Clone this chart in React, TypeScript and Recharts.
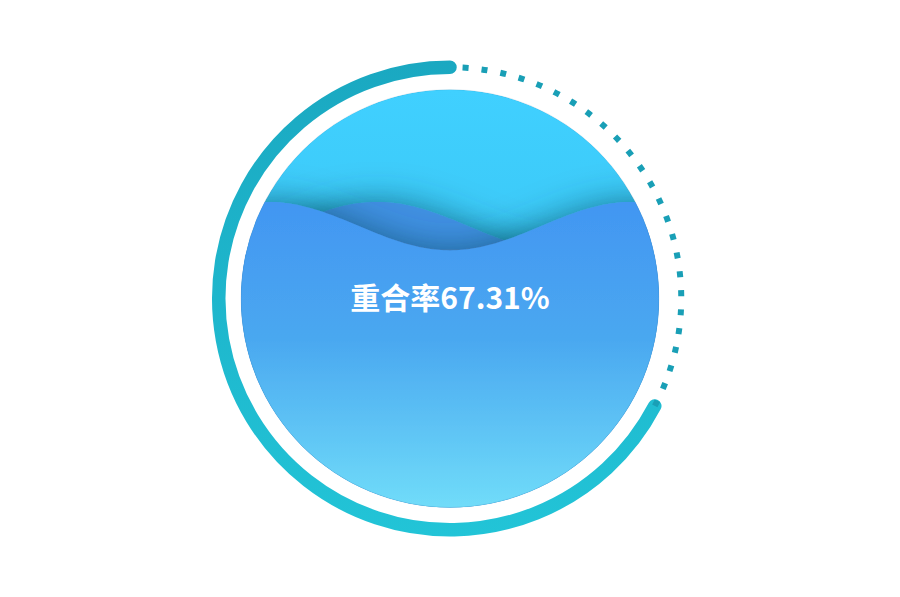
import { PieChart, Pie, Label } from "recharts";

// 重合率 value (percent)
const seriesName = "重合率";
const ratioValues = [67.31];
const ringNames = ["重合", "未重合"];
const ringValues = [67.31, 32.69];
const ringKinds = ["solid", "dotted"];

const liquidData = [{ name: seriesName, value: ratioValues[0] }];
const ringData = ringNames.map((name, i) => ({ name, value: ringValues[i], kind: ringKinds[i] }));

const WIDTH = 900;
const HEIGHT = 597;
const CX = 450;
const CY = 298.5;
const RAD = Math.PI / 180;

function arcPath(cx: number, cy: number, r: number, a0: number, a1: number) {
  const x1 = cx + r * Math.cos(a0 * RAD);
  const y1 = cy - r * Math.sin(a0 * RAD);
  const x2 = cx + r * Math.cos(a1 * RAD);
  const y2 = cy - r * Math.sin(a1 * RAD);
  const large = Math.abs(a1 - a0) > 180 ? 1 : 0;
  const sweep = a1 > a0 ? 0 : 1;
  return `M${x1},${y1} A${r},${r} 0 ${large} ${sweep} ${x2},${y2}`;
}

function RingShape(props: any) {
  const { cx, cy, innerRadius, outerRadius, startAngle, endAngle } = props;
  const kind = props.kind ?? props.payload?.kind;
  const r = (innerRadius + outerRadius) / 2;
  const w = outerRadius - innerRadius;
  if (kind === "solid") {
    return (
      <path d={arcPath(cx, cy, r, startAngle, endAngle)} fill="none" stroke="url(#ringGrad)"
        strokeWidth={w} strokeLinecap="round" />
    );
  }
  return (
    <path d={arcPath(cx, cy, r, startAngle, endAngle)} fill="none" stroke="#199fb6"
      strokeWidth={6} strokeDasharray="6 13" strokeDashoffset={0} />
  );
}

// wave outline, the shape of the surface only (the level comes from the value)
function wavePath(cx: number, cy: number, R: number, level: number, amp: number, len: number, peakX: number) {
  let d = "";
  for (let x = cx - R - 10; x <= cx + R + 10; x += 3) {
    const y = level - amp * Math.cos((2 * Math.PI * (x - peakX)) / len);
    d += (d ? " L" : "M") + x.toFixed(1) + "," + y.toFixed(2);
  }
  d += ` L${cx + R + 10},${cy + R + 10} L${cx - R - 10},${cy + R + 10} Z`;
  return d;
}

function LiquidShape(props: any) {
  const { cx, cy, outerRadius: R } = props;
  const value = props.value ?? props.payload?.value ?? 0;
  const level = cy + R - (2 * R * value) / 100;
  const amp = R * 0.116;
  const len = R * 1.74;
  return (
    <g>
      <defs>
        <clipPath id="liquidClip">
          <circle cx={cx} cy={cy} r={R} />
        </clipPath>
        <linearGradient id="bgGrad" gradientUnits="userSpaceOnUse" x1="0" y1={cy - R} x2="0" y2={level}>
          <stop offset="0" stopColor="#40d0ff" />
          <stop offset="1" stopColor="#3ccaf8" />
        </linearGradient>
        <linearGradient id="waveGrad" gradientUnits="userSpaceOnUse" x1="0" y1={level - amp} x2="0" y2={cy + R}>
          <stop offset="0" stopColor="#4296f2" />
          <stop offset="0.45" stopColor="#4aa8f0" />
          <stop offset="1" stopColor="#70dcf9" />
        </linearGradient>
        <filter id="waveShadow" x="-20%" y="-60%" width="140%" height="220%">
          <feDropShadow dx="0" dy="0" stdDeviation="17" floodColor="#0b4454" floodOpacity="0.6" />
        </filter>
      </defs>
      <g clipPath="url(#liquidClip)">
        <circle cx={cx} cy={cy} r={R} fill="url(#bgGrad)" />
        <path d={wavePath(cx, cy, R, level, amp, len, cx - len * 0.2)} fill="#3f90e2" filter="url(#waveShadow)" />
        <path d={wavePath(cx, cy, R, level, amp, len, cx + len / 2)} fill="url(#waveGrad)" filter="url(#waveShadow)" />
      </g>
      <circle cx={cx} cy={cy} r={R} fill="none" stroke="rgba(30,90,140,0.2)" strokeWidth={0.6} />
    </g>
  );
}

export default function App() {
  return (
    <div style={{ position: "absolute", left: 0, top: 0, width: WIDTH, height: HEIGHT, background: "#fff" }}>
      <PieChart width={WIDTH} height={HEIGHT} margin={{ top: 0, right: 0, bottom: 0, left: 0 }}>
        <defs>
          <linearGradient id="ringGrad" gradientUnits="userSpaceOnUse" x1="0" y1="60" x2="0" y2="537">
            <stop offset="0" stopColor="#1aa8c1" />
            <stop offset="1" stopColor="#22c4d7" />
          </linearGradient>
        </defs>
        <Pie data={liquidData} dataKey="value" nameKey="name" cx={CX} cy={CY} innerRadius={0} outerRadius={209}
          startAngle={90} endAngle={450} stroke="none" shape={LiquidShape} isAnimationActive={false}>
          <Label value={`${seriesName}${ratioValues[0].toFixed(2)}%`} position="center" fill="#ffffff"
            fontSize={30} fontWeight="bold" fontFamily="'Noto Sans CJK SC', sans-serif" />
        </Pie>
        <Pie data={ringData} dataKey="value" nameKey="name" cx={CX} cy={CY} innerRadius={224.5} outerRadius={238}
          startAngle={90} endAngle={450} stroke="none" shape={RingShape} isAnimationActive={false} />
      </PieChart>
    </div>
  );
}
